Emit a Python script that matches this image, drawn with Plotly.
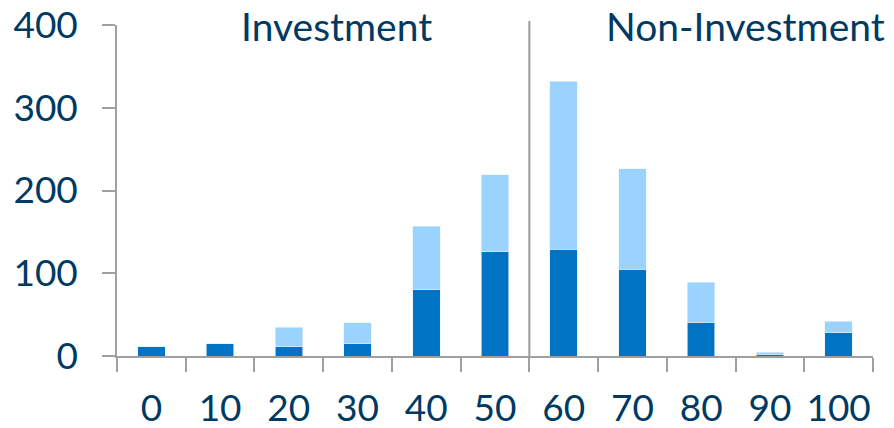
import plotly.graph_objects as go

categories = ["0", "10", "20", "30", "40", "50", "60", "70", "80", "90", "100"]
dark_values = [11, 15, 11, 15, 80, 126, 129, 105, 41, 2, 28]
light_values = [0, 0, 24, 25, 77, 93, 203, 121, 48, 2.5, 14]
y_ticks = [0, 100, 200, 300, 400]
group_labels = ["Investment", "Non-Investment"]

TEXT = "#003A63"
AXIS = "#A0A0A0"
FONT = "Lato"
TICK_SIZE = 37
TITLE_SIZE = 39

fig = go.Figure()
fig.add_trace(go.Bar(x=categories, y=dark_values, marker=dict(color="#0073C4", line=dict(color="#E6F3FF", width=0.6)), showlegend=False))
fig.add_trace(go.Bar(x=categories, y=light_values, marker=dict(color="#99D3FE", line=dict(color="#E6F3FF", width=0.6)), showlegend=False))

fig.update_layout(
    barmode="stack",
    bargap=0.6,
    width=894, height=428,
    margin=dict(l=117, r=21, t=25, b=72),
    plot_bgcolor="white", paper_bgcolor="white",
    font=dict(family=FONT, color=TEXT, size=TICK_SIZE),
)
fig.update_xaxes(
    type="category", showline=True, linecolor=AXIS, linewidth=1.5,
    ticks="outside", ticklen=14, tickcolor=AXIS, tickwidth=1.5,
    tickson="boundaries", showgrid=False, ticklabelstandoff=19,
    tickangle=0, automargin=False, ticklabeloverflow="allow",
    tickfont=dict(size=TICK_SIZE, color=TEXT, family=FONT),
)
fig.update_yaxes(
    range=[0, 400], tickvals=y_ticks, showline=True, linecolor=AXIS, linewidth=1.5,
    ticks="outside", ticklen=13, tickcolor=AXIS, tickwidth=1.5,
    showgrid=False, zeroline=False, ticklabelstandoff=17, automargin=False,
    ticklabeloverflow="allow",
    tickfont=dict(size=TICK_SIZE, color=TEXT, family=FONT),
)

# divider between groups
fig.add_shape(type="line", xref="x", yref="paper", x0=5.5, x1=5.5, y0=0, y1=1.012,
              line=dict(color="#999999", width=2))

fig.add_annotation(text=group_labels[0], xref="paper", yref="paper", x=0.2897, y=0.997,
                   xanchor="center", yanchor="middle", showarrow=False,
                   font=dict(size=TITLE_SIZE, color=TEXT, family=FONT))
fig.add_annotation(text=group_labels[1], xref="paper", yref="paper", x=0.8307, y=0.997,
                   xanchor="center", yanchor="middle", showarrow=False,
                   font=dict(size=TITLE_SIZE, color=TEXT, family=FONT))

# remove the default page margin so the figure fills the window exactly
fig.write_html("out.html", config={"displayModeBar": False},
               post_script="document.body.style.margin='0';")
